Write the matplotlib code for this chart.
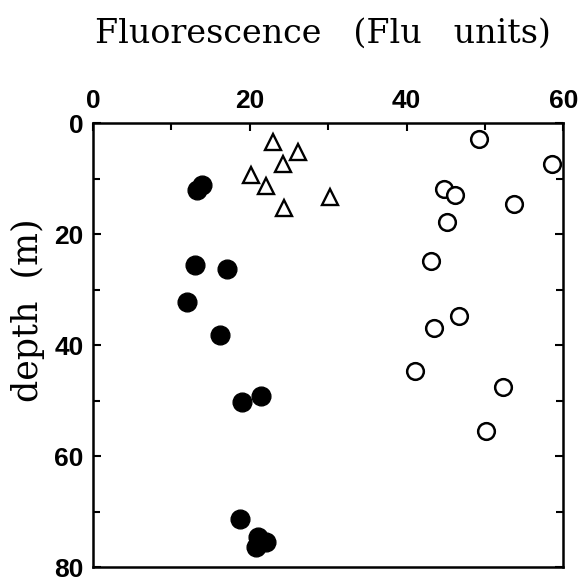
import matplotlib
matplotlib.use('Agg')
import matplotlib.pyplot as plt
from matplotlib.ticker import MultipleLocator

# filled circles
filled_x = [13.9, 13.3, 13.0, 17.1, 12.0, 16.2, 19.0, 21.4, 18.8, 21.1, 22.0, 20.8]
filled_y = [11.1, 12.1, 25.5, 26.2, 32.3, 38.2, 50.2, 49.1, 71.4, 74.5, 75.5, 76.4]

# open triangles
tri_x = [23.0, 26.1, 24.2, 20.1, 22.1, 24.3, 30.2]
tri_y = [3.4, 5.2, 7.4, 9.4, 11.3, 15.2, 13.3]

# open circles
open_x = [49.2, 58.5, 44.8, 46.2, 53.7, 45.2, 43.1, 46.7, 43.5, 41.1, 52.3, 50.1]
open_y = [2.8, 7.4, 11.9, 13.0, 14.6, 17.8, 24.9, 34.7, 36.9, 44.6, 47.6, 55.5]

xticks = [0, 20, 40, 60]
yticks = [0, 20, 40, 60, 80]

fig = plt.figure(figsize=(5.82, 5.81), dpi=100)
ax = fig.add_axes([0.160, 0.024, 0.808, 0.764])

ax.plot(filled_x, filled_y, 'o', ms=13.5, color='black', mec='black', ls='none')
ax.plot(tri_x, tri_y, '^', ms=12, mfc='white', mec='black', mew=1.7, ls='none')
ax.plot(open_x, open_y, 'o', ms=12, mfc='white', mec='black', mew=1.8, ls='none')

ax.set_xlim(0, 60)
ax.set_ylim(80, 0)
ax.set_xticks(xticks)
ax.set_yticks(yticks)
ax.xaxis.set_minor_locator(MultipleLocator(10))
ax.yaxis.set_minor_locator(MultipleLocator(10))
ax.xaxis.tick_top()
ax.tick_params(axis='x', which='both', direction='in', top=True, bottom=False)
ax.tick_params(axis='y', which='both', direction='in', left=True, right=True)
ax.tick_params(which='major', length=6, width=1.5, pad=7)
ax.tick_params(which='minor', length=5, width=1.5)

for lab in ax.get_xticklabels() + ax.get_yticklabels():
    lab.set_fontfamily('Liberation Sans')
    lab.set_fontweight('bold')
    lab.set_fontsize(19)

for s in ax.spines.values():
    s.set_linewidth(1.8)

fig.text(0.555, 0.926, 'Fluorescence   (Flu   units)', ha='center', va='baseline',
         fontsize=24, family='DejaVu Serif')
fig.text(0.048, 0.466, 'depth  (m)', ha='center', va='center', rotation=90,
         fontsize=25, family='DejaVu Serif')

fig.savefig('out.png', dpi=100)
